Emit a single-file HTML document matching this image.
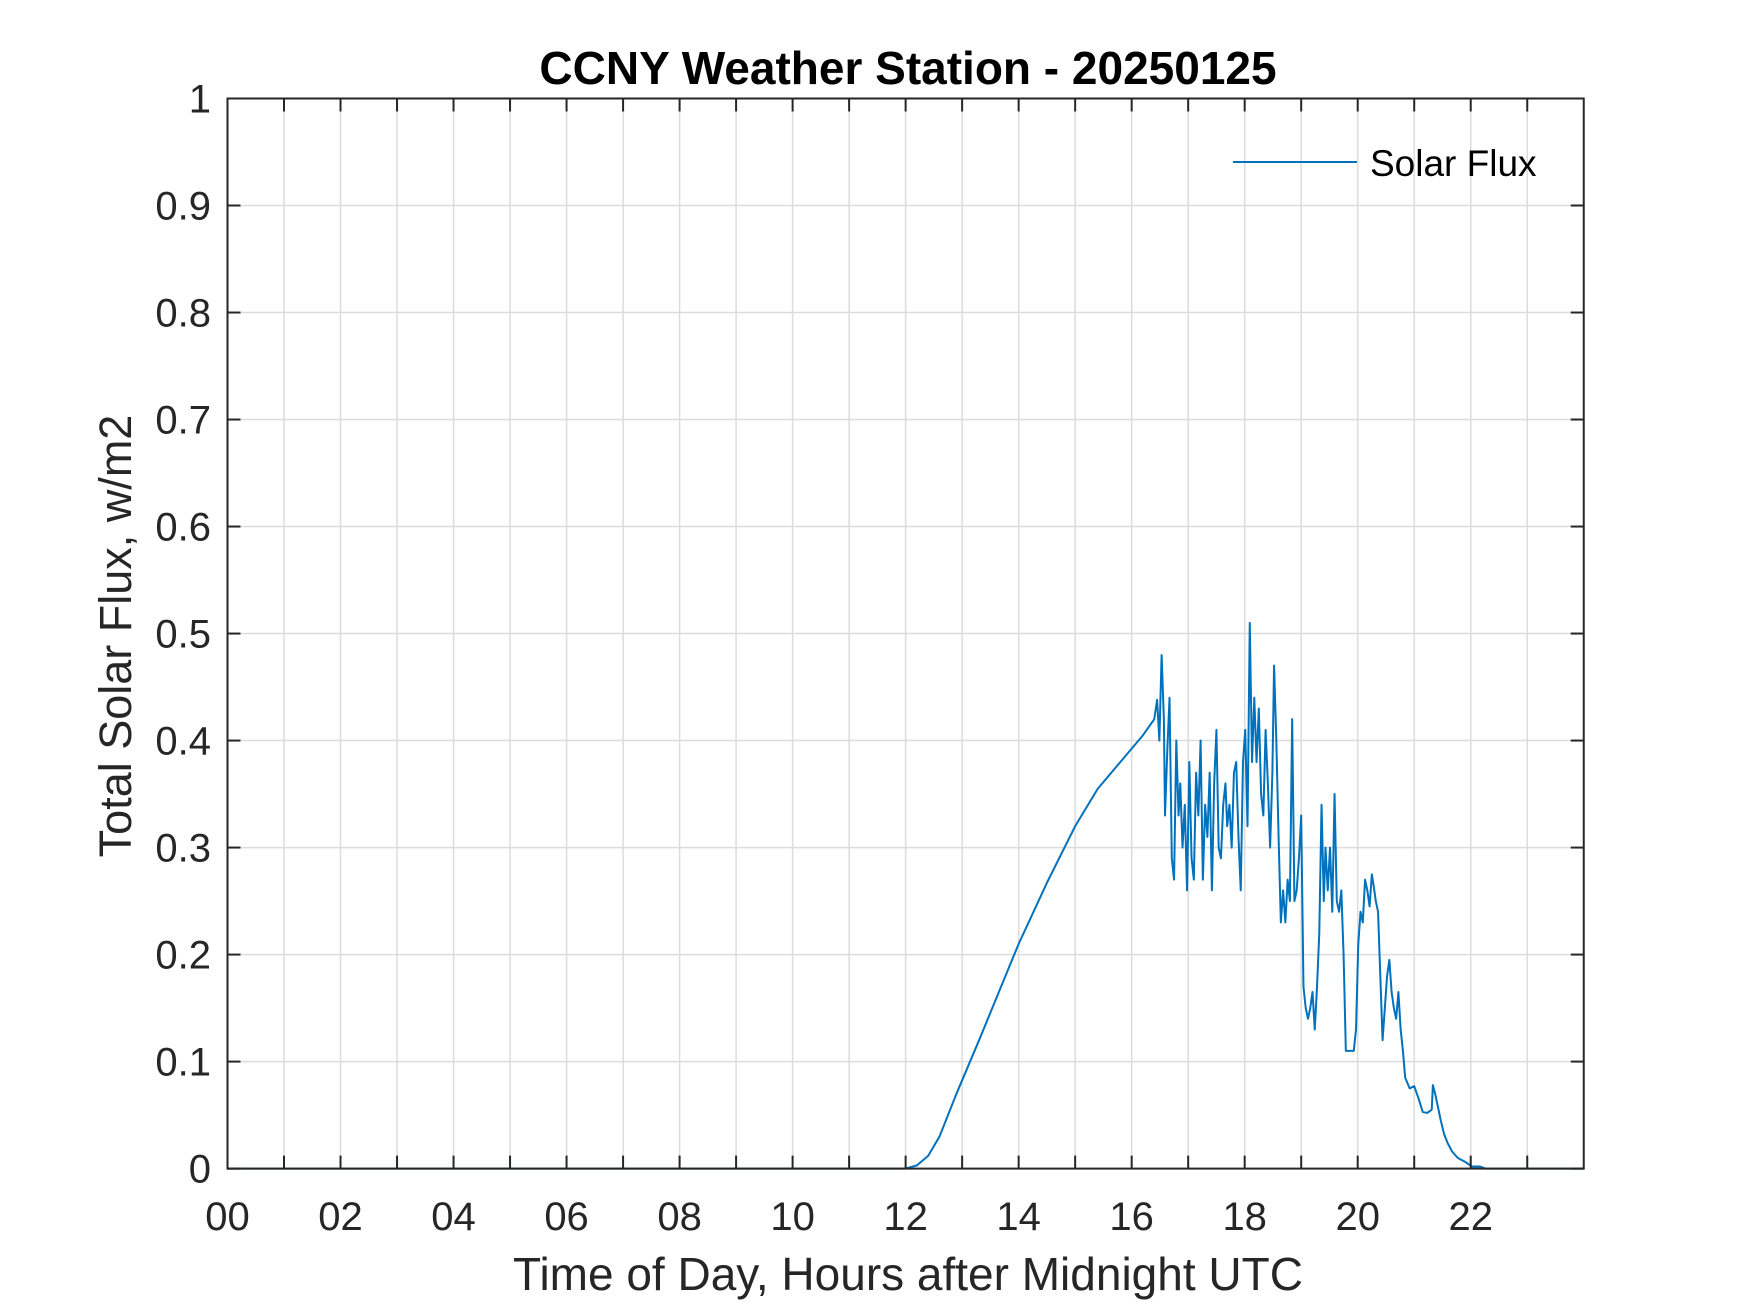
<!DOCTYPE html>
<html><head><meta charset="utf-8"><style>
html,body{margin:0;padding:0;background:#fff;}
svg{display:block;font-family:"Liberation Sans",Arial,sans-serif;}
</style></head><body>
<svg id="chart" width="1750" height="1313" viewBox="0 0 1750 1313" xmlns="http://www.w3.org/2000/svg">
<rect width="1750" height="1313" fill="#fff"/>
<g id="grid"></g>
<g id="series"></g>
<g id="axes"></g>
<text x="908" y="84" text-anchor="middle" font-size="46" font-weight="bold" fill="#000">CCNY Weather Station - 20250125</text>
<text x="908" y="1290" text-anchor="middle" font-size="46" fill="#262626">Time of Day, Hours after Midnight UTC</text>
<text transform="translate(131,636) rotate(-90)" text-anchor="middle" font-size="45" fill="#262626">Total Solar Flux, w/m2</text>
<g>
<line x1="1233" y1="162" x2="1357" y2="162" stroke="#0072BD" stroke-width="2"/>
<text x="1370" y="176" font-size="37" fill="#000">Solar Flux</text>
</g>
</svg>
<script>
const hours = [0,12.0,12.2,12.4,12.6,12.9,13.3,14.0,14.5,15.0,15.4,15.8,16.2,16.4,16.45,16.49,16.53,16.57,16.59,16.63,16.67,16.71,16.75,16.79,16.83,16.86,16.90,16.94,16.98,17.02,17.06,17.10,17.14,17.18,17.22,17.26,17.30,17.34,17.38,17.42,17.46,17.50,17.54,17.58,17.62,17.66,17.69,17.73,17.77,17.81,17.85,17.89,17.93,17.97,18.01,18.05,18.09,18.13,18.17,18.21,18.25,18.29,18.33,18.37,18.41,18.45,18.49,18.52,18.56,18.60,18.64,18.68,18.72,18.76,18.80,18.84,18.88,18.92,18.96,19.00,19.04,19.08,19.12,19.16,19.20,19.24,19.28,19.32,19.36,19.40,19.43,19.47,19.51,19.55,19.59,19.63,19.67,19.71,19.75,19.79,19.85,19.93,19.97,20.01,20.05,20.09,20.13,20.17,20.21,20.25,20.28,20.32,20.36,20.40,20.44,20.48,20.52,20.56,20.60,20.64,20.68,20.72,20.76,20.80,20.84,20.92,21.00,21.08,21.15,21.23,21.31,21.33,21.37,21.41,21.47,21.53,21.59,21.67,21.77,21.91,22.02,22.16,22.26,24];
const flux = [0,0,0.003,0.012,0.03,0.07,0.12,0.21,0.267,0.32,0.355,0.38,0.405,0.42,0.438,0.40,0.48,0.42,0.33,0.39,0.44,0.29,0.27,0.40,0.33,0.36,0.30,0.34,0.26,0.38,0.29,0.27,0.37,0.33,0.40,0.27,0.34,0.31,0.37,0.26,0.36,0.41,0.30,0.29,0.34,0.36,0.32,0.34,0.30,0.37,0.38,0.31,0.26,0.38,0.41,0.32,0.51,0.38,0.44,0.38,0.43,0.35,0.33,0.41,0.36,0.30,0.37,0.47,0.40,0.31,0.23,0.26,0.23,0.27,0.25,0.42,0.25,0.26,0.29,0.33,0.17,0.15,0.14,0.15,0.165,0.13,0.17,0.22,0.34,0.25,0.30,0.26,0.30,0.24,0.35,0.25,0.24,0.26,0.20,0.11,0.11,0.11,0.13,0.21,0.24,0.23,0.27,0.26,0.245,0.275,0.265,0.25,0.24,0.18,0.12,0.15,0.18,0.195,0.165,0.15,0.14,0.165,0.13,0.11,0.085,0.075,0.077,0.065,0.053,0.052,0.055,0.078,0.07,0.06,0.045,0.032,0.024,0.016,0.01,0.006,0.002,0.002,0,0];
const xTickLabels = ["00","02","04","06","08","10","12","14","16","18","20","22"];
const yTickLabels = ["0","0.1","0.2","0.3","0.4","0.5","0.6","0.7","0.8","0.9","1"];

const NS="http://www.w3.org/2000/svg";
const L=227.5,R=1583.75,T=98.5,B=1168.6;
const xMin=0,xMax=24,yMin=0,yMax=1;
function sx(h){return L+(h-xMin)/(xMax-xMin)*(R-L);}
function sy(v){return B-(v-yMin)/(yMax-yMin)*(B-T);}
function mk(tag,attrs,parent){const e=document.createElementNS(NS,tag);for(const k in attrs)e.setAttribute(k,attrs[k]);parent.appendChild(e);return e;}
const grid=document.getElementById('grid'),axes=document.getElementById('axes'),series=document.getElementById('series');

for(let h=1;h<24;h++){
  const g=mk('line',{x1:sx(h),x2:sx(h),y1:T,y2:B,stroke:'#dcdcdc','stroke-width':1.5},grid);
  
  
  const t1=mk('line',{x1:sx(h),x2:sx(h),y1:B,y2:B-13,stroke:'#262626','stroke-width':2},axes);
  
  
  const t2=mk('line',{x1:sx(h),x2:sx(h),y1:T,y2:T+13,stroke:'#262626','stroke-width':2},axes);
  
  
}
xTickLabels.forEach((lab,i)=>{
  const t=mk('text',{x:sx(i*2),y:1230,'text-anchor':'middle','font-size':40,fill:'#262626'},axes);
  t.textContent=lab;
  
  
});
yTickLabels.forEach((lab,i)=>{
  const v=parseFloat(lab);
  if(i>0&&i<yTickLabels.length-1){
    const g=mk('line',{x1:L,x2:R,y1:sy(v),y2:sy(v),stroke:'#dcdcdc','stroke-width':1.5},grid);
    
    
  }
  const a=mk('line',{x1:L,x2:L+13,y1:sy(v),y2:sy(v),stroke:'#262626','stroke-width':2},axes);
  
  
  const b=mk('line',{x1:R,x2:R-13,y1:sy(v),y2:sy(v),stroke:'#262626','stroke-width':2},axes);
  
  
  const t=mk('text',{x:211,y:sy(v)+14,'text-anchor':'end','font-size':40,fill:'#262626'},axes);
  t.textContent=lab;
  
  
});
const box=mk('rect',{x:L,y:T,width:R-L,height:B-T,fill:'none',stroke:'#262626','stroke-width':2},axes);



const pts=hours.map((h,i)=>sx(h).toFixed(2)+','+sy(flux[i]).toFixed(2)).join(' ');
const line=mk('polyline',{points:pts,fill:'none',stroke:'#0072BD','stroke-width':2,'stroke-linejoin':'round'},series);


</script>
</body></html>
